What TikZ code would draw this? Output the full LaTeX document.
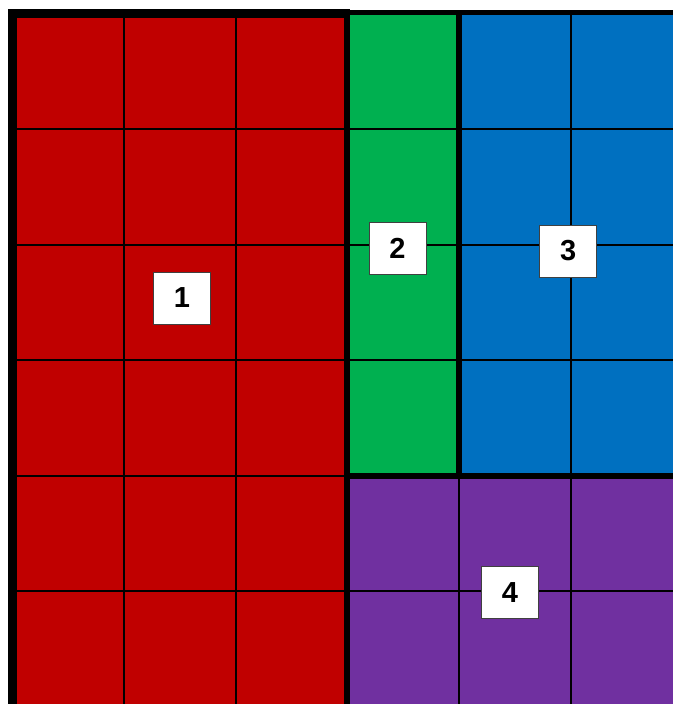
\documentclass[tikz,border=0pt]{standalone}
\usepackage{fontspec}
\setsansfont{Liberation Sans}
\definecolor{colONE}{RGB}{192,0,0}
\definecolor{colTWO}{RGB}{0,176,80}
\definecolor{colTHREE}{RGB}{0,112,192}
\definecolor{colFOUR}{RGB}{112,48,160}
\tikzset{
  lbl/.style={fill=white, draw=black!75, line width=0.8pt, minimum width=57pt,
    minimum height=52pt, inner sep=0pt,
    font=\sffamily\bfseries\fontsize{29}{29}\selectfont},
  gridline/.style={line width=2pt},
  border/.style={line width=6pt}
}

\begin{document}
\begin{tikzpicture}[x=111.6pt, y=-115.5pt]
      \useasboundingbox (-0.112,-0.117) rectangle (5.918,5.978);
      % Regions
      \fill[colONE] (0,0) rectangle (3,6);
      \fill[colTWO] (3,0) rectangle (4,4);
      \fill[colTHREE] (4,0) rectangle (6,4);
      \fill[colFOUR] (3,4) rectangle (6,6);
      % Thin grid
      \foreach \i in {1,...,5}
        \draw[gridline] (\i,0) -- (\i,6);
      \foreach \j in {1,...,5}
        \draw[gridline] (0,\j) -- (6,\j);
      % Region borders
      \draw[line width=5pt] (3,-0.0087) -- (6,-0.0087);
      \draw[line width=9pt] (0,6) -- (0,0) -- (3.027,0);
      \draw[border] (3,0) -- (3,6);
      \draw[border] (4,0) -- (4,4);
      \draw[border] (3,4) -- (6,4);
      % Labels
      \node[lbl] (n1) at (1.519,2.463) {1};
      \node[lbl] (n2) at (3.450,2.030) {2};
      \node[lbl] (n3) at (4.978,2.056) {3};
      \node[lbl] (n4) at (4.458,5.009) {4};
\end{tikzpicture}
\end{document}
